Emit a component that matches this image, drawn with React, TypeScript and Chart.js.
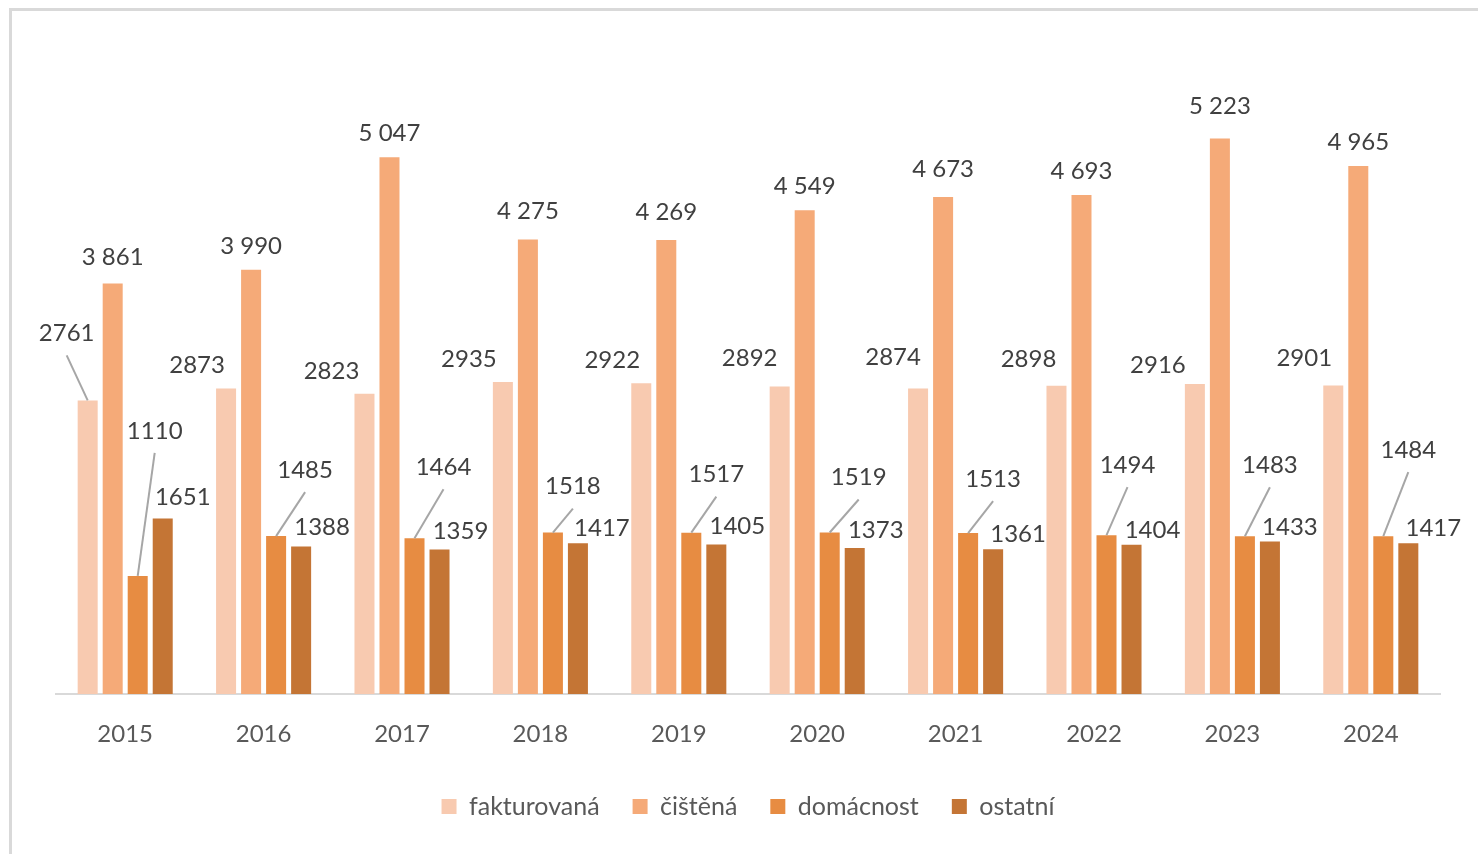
import React, { useEffect, useRef } from "react";
import { Chart, registerables } from "chart.js";

Chart.register(...registerables);

const years = ["2015", "2016", "2017", "2018", "2019", "2020", "2021", "2022", "2023", "2024"];
const seriesNames = ["fakturovaná", "čištěná", "domácnost", "ostatní"];
const fakturovana = [2761, 2873, 2823, 2935, 2922, 2892, 2874, 2898, 2916, 2901];
const cistena = [3861, 3990, 5047, 4275, 4269, 4549, 4673, 4693, 5223, 4965];
const domacnost = [1110, 1485, 1464, 1518, 1517, 1519, 1513, 1494, 1483, 1484];
const ostatni = [1651, 1388, 1359, 1417, 1405, 1373, 1361, 1404, 1433, 1417];
const seriesColors = ["#F8CAB0", "#F5AA78", "#E78C42", "#C47535"];
const thousandsSep = [false, true, false, false];

// label offsets (px) relative to bar top centre, per series
const labelDx = [
  [-21, -29, -33, -34, -29, -30, -25, -28, -37, -29],
  [0, 0, 0, 0, 0, 0, 0, 0, 0, 0],
  [17, 29, 29, 20, 25, 29, 25, 21, 25, 25],
  [20, 21, 21, 24, 21, 21, 25, 21, 20, 25],
];
const labelDy = [
  [-67, -23, -23, -23, -23, -28, -31, -27, -19, -27],
  [-26, -23, -24, -28, -28, -24, -28, -24, -32, -24],
  [-145, -66, -71, -46, -58, -55, -54, -70, -71, -86],
  [-21, -19, -18, -15, -18, -18, -15, -14, -14, -15],
];

const FONT = "Lato, 'Open Sans', sans-serif";

function fmt(v: number, sep: boolean) {
  const s = String(v);
  return sep ? s.replace(/\B(?=(\d{3})+(?!\d))/g, " ") : s;
}

const labelPlugin = {
  id: "customLabels",
  afterDatasetsDraw(chart: any) {
    const ctx = chart.ctx;
    ctx.save();
    ctx.font = `24px ${FONT}`;
    ctx.textAlign = "center";
    ctx.textBaseline = "middle";
    chart.data.datasets.forEach((ds: any, di: number) => {
      const meta = chart.getDatasetMeta(di);
      meta.data.forEach((bar: any, i: number) => {
        const dx = labelDx[di][i];
        const dy = labelDy[di][i];
        const lx = bar.x + dx;
        const ly = bar.y + dy;
        if (-dy > 40) {
          ctx.strokeStyle = "#A6A6A6";
          ctx.lineWidth = 2;
          ctx.beginPath();
          ctx.moveTo(lx, ly + 22);
          ctx.lineTo(bar.x, bar.y);
          ctx.stroke();
        }
        ctx.fillStyle = "#404040";
        ctx.fillText(fmt(ds.data[i], thousandsSep[di]), lx, ly);
      });
    });
    ctx.restore();
  },
};

export default function App() {
  const ref = useRef<HTMLCanvasElement>(null);
  useEffect(() => {
    if (!ref.current) return;
    const allData = [fakturovana, cistena, domacnost, ostatni];
    const chart = new Chart(ref.current, {
      type: "bar",
      data: {
        labels: years,
        datasets: seriesNames.map((name, k) => ({
          label: name,
          data: allData[k],
          backgroundColor: seriesColors[k],
          borderWidth: 0,
          categoryPercentage: 0.723,
          barPercentage: 0.8,
        })),
      },
      options: {
        animation: false,
        responsive: false,
        maintainAspectRatio: false,
        layout: { padding: { left: 56, right: 38, top: 56, bottom: 25 } },
        scales: {
          y: { display: false, min: 0, max: 6000 },
          x: {
            grid: { display: false, drawTicks: false },
            border: { display: true, color: "#D9D9D9", width: 2 },
            ticks: { color: "#595959", font: { family: FONT, size: 24 }, padding: 26 },
            afterFit: (scale: any) => {
              scale.height = 67;
            },
          },
        },
        plugins: {
          tooltip: { enabled: false },
          legend: {
            position: "bottom",
            labels: {
              color: "#595959",
              font: { family: FONT, size: 25 },
              boxWidth: 15,
              boxHeight: 15,
              padding: 33,
            },
          },
        },
      },
      plugins: [labelPlugin],
    });
    return () => chart.destroy();
  }, []);
  return (
    <div style={{ position: "fixed", left: 0, top: 0, width: 1478, height: 854, background: "#fff" }}>
      <div
        style={{
          position: "absolute",
          left: 9,
          top: 8,
          width: 1478,
          height: 854,
          borderLeft: "3px solid #D9D9D9",
          borderTop: "3px solid #D9D9D9",
        }}
      />
      <canvas ref={ref} width={1478} height={854} style={{ position: "absolute", left: 0, top: 0 }} />
    </div>
  );
}
